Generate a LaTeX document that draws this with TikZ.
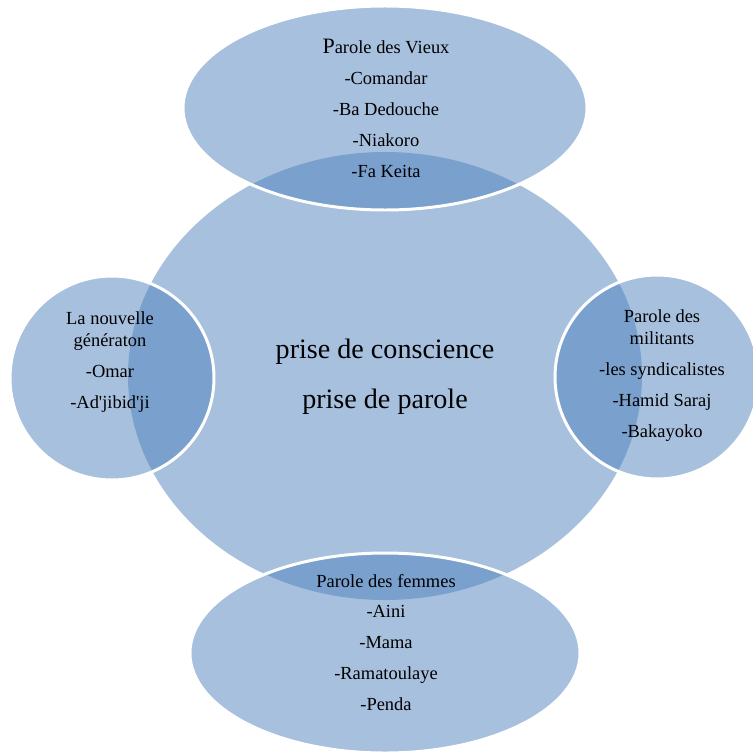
\documentclass[tikz,border=0pt]{standalone}
\usepackage{fontspec}
\setmainfont{Liberation Serif}
\usetikzlibrary{shapes}
\definecolor{accent}{RGB}{79,129,189}
\tikzstyle{bubble} = [ellipse, fill=accent, fill opacity=0.5, inner sep=0pt, outer sep=0pt]
\tikzstyle{sat} = [bubble, draw=white, draw opacity=1, line width=1.7pt]
\tikzstyle{txt} = [align=center, text=black, font=\fontsize{10.5}{12.6}\selectfont]

\begin{document}
\begin{tikzpicture}
		\def\sz{4.08cm}
		\useasboundingbox (0,0) rectangle (15.04,-15.10);
		\node[bubble, minimum width=10.28cm, minimum height=8.96cm] (prise) at (7.70,-7.52) {};
		\node[sat, minimum width=8.08cm, minimum height=4.08cm] (vieux) at (7.70,-2.16) {};
		\node[sat, minimum width=7.80cm, minimum height=4.00cm] (femmes) at (7.70,-13.06) {};
		\node[sat, circle, minimum size=\sz] (gen) at (2.24,-7.56) {};
		\node[sat, circle, minimum size=\sz] (milit) at (13.14,-7.54) {};
		
		\node[txt, font=\fontsize{16}{28.5}\selectfont] (centre) at (7.70,-7.54) {prise de conscience\\ prise de parole};
		\node[txt] (vieuxtxt) at (7.72,-2.17) {{\fontsize{12.5}{12.6}\selectfont P}arole des Vieux\\[5pt] -Comandar\\[5pt] -Ba Dedouche\\[5pt] -Niakoro\\[5pt] -Fa Keita};
		\node[txt] (gentxt) at (2.20,-7.24) {La nouvelle\\ génératon\\[5pt] -Omar\\[5pt] -Ad\textquotesingle jibid\textquotesingle ji};
		\node[txt] (milittxt) at (13.24,-7.51) {Parole des\\ militants\\[5pt] -les syndicalistes\\[5pt] -Hamid Saraj\\[5pt] -Bakayoko};
		\node[txt] (femmestxt) at (7.72,-12.85) {Parole des femmes\\[5pt] -Aini\\[5pt] -Mama\\[5pt] -Ramatoulaye\\[5pt] -Penda};
\end{tikzpicture}
\end{document}
